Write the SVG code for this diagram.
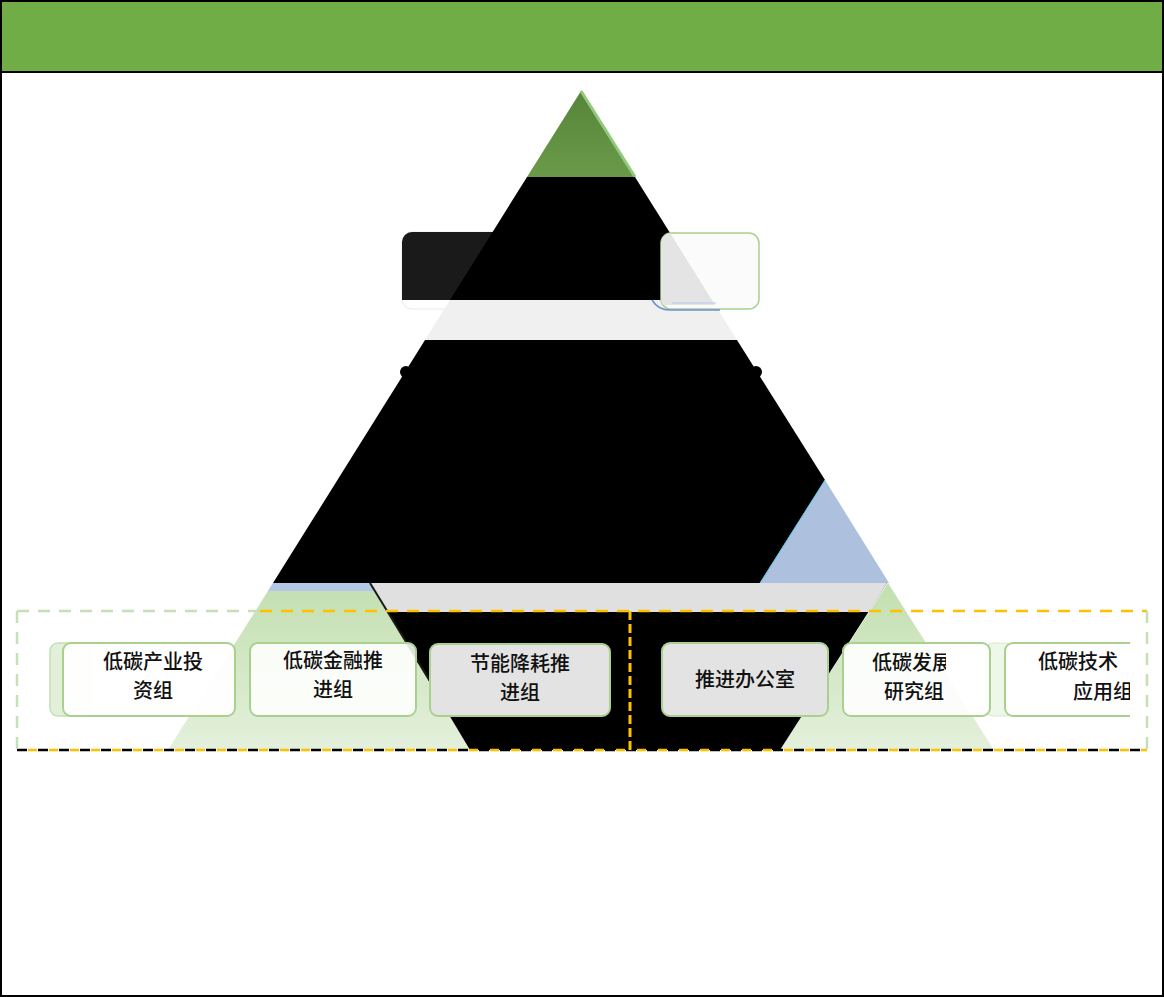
<svg xmlns="http://www.w3.org/2000/svg" width="1164" height="997" viewBox="0 0 1164 997">
<style>
.t{font-family:"Noto Sans CJK SC","Noto Sans CJK JP",sans-serif;font-size:20px;fill:#111;text-anchor:middle;font-weight:500}
.box{stroke:#a9d18e;stroke-width:2}
.dash{fill:none;stroke:#FFC000;stroke-width:2.5;stroke-dasharray:12 9}
</style>
<defs>
<linearGradient id="gTop" x1="0" y1="0" x2="0" y2="1"><stop offset="0" stop-color="#56853a"/><stop offset="1" stop-color="#6a9a49"/></linearGradient>
<linearGradient id="gLow" x1="0" y1="0" x2="0" y2="1"><stop offset="0" stop-color="#c3dfb0"/><stop offset="1" stop-color="#e4f0dc"/></linearGradient>
<clipPath id="cR"><rect x="661" y="233" width="98" height="76" rx="10"/></clipPath>
<clipPath id="c5"><rect x="840" y="640" width="106" height="80"/><rect x="840" y="676" width="160" height="45"/></clipPath>
<clipPath id="c6"><rect x="1000" y="630" width="130" height="100"/></clipPath>
</defs>
<rect x="1" y="1" width="1162" height="995" fill="#fff" stroke="#000" stroke-width="2"/>
<g id="header"><rect x="2" y="2" width="1160" height="69" fill="#70AD47"/><line x1="0" y1="72" x2="1164" y2="72" stroke="#000" stroke-width="2"/></g>

<g id="top-left-box">
<rect x="402" y="232" width="200" height="77" rx="10" fill="none" stroke="#e8e8e8" stroke-width="1"/>
<path d="M412 232 H602 V300 H402 V242 A10 10 0 0 1 412 232 Z" fill="#1a1a1a"/>
</g>

<g id="pyramid">
<polygon points="581,91 527,177 635,177" fill="url(#gTop)"/>
<line x1="581" y1="91" x2="635" y2="177" stroke="#93c97d" stroke-width="3"/>
<polygon points="527,177 635,177 712,300 450,300" fill="#000"/>
<polygon points="450,300 712,300 737,340 425,340" fill="#f0f0f0"/>
<polygon points="425,340 737,340 825,480 760,583 273,583" fill="#000"/>
<circle cx="406" cy="372" r="6" fill="#000"/>
<circle cx="756" cy="372" r="6" fill="#000"/>
<polygon points="825,480 889,583 760,583" fill="#adc0dd"/>
<line x1="825" y1="480" x2="760" y2="583" stroke="#4fc3e8" stroke-width="1"/>
<polygon points="273,583 370,583 470,750 168,750" fill="url(#gLow)"/>
<polygon points="273,583 370,583 375,591 268,591" fill="#b4c7e7"/>
<polygon points="888,583 994,750 780,750" fill="url(#gLow)"/>
<polygon points="370,583 887,583 780,750 470,750" fill="#000"/>
<polygon points="370,583 887,583 869,612 387,612" fill="#e0e0e0"/>
<line x1="370" y1="583" x2="430" y2="681" stroke="#1a1a1a" stroke-width="2"/>
</g>

<g id="top-right-box">
<rect x="661" y="233" width="98" height="76" rx="10" fill="#fbfbfb" stroke="#a9d18e" stroke-width="1.5"/>
<polygon points="655,228 667,228 715,305 655,305" fill="#e4e4e4" clip-path="url(#cR)"/>
<path d="M652 300 Q658 310 670 310 H720" fill="none" stroke="#6f8fcf" stroke-width="1.5"/>
<line x1="672" y1="303" x2="716" y2="303" stroke="#b8c4f0" stroke-width="1"/>
</g>

<g id="group-frames">
<line x1="17" y1="611" x2="260" y2="611" class="dash" style="stroke:#c5e0b4"/>
<line x1="260" y1="611" x2="1147" y2="611" class="dash"/>
<line x1="17" y1="750" x2="1147" y2="750" class="dash" style="stroke:#000;stroke-dasharray:10 11"/>
<line x1="28" y1="750" x2="1147" y2="750" class="dash" style="stroke-dasharray:9 12"/>
<line x1="17" y1="611" x2="17" y2="750" class="dash" style="stroke:#c5e0b4"/>
<line x1="1147" y1="611" x2="1147" y2="750" class="dash" style="stroke:#c5e0b4"/>
<line x1="630" y1="611" x2="630" y2="750" class="dash" style="stroke-width:3;stroke-dasharray:9 4"/>
</g>

<g id="connectors"></g>

<g id="node-1">
<rect x="50" y="643" width="40" height="73" rx="8" fill="#e2f0d9" stroke="#c5e0b4" stroke-width="1.5"/>
<rect x="63" y="643" width="172" height="73" rx="8" class="box" fill="#fff" fill-opacity="0.95"/>
<text class="t" x="153" y="669">低碳产业投</text><text class="t" x="153" y="698">资组</text>
</g>
<g id="node-2">
<rect x="250" y="643" width="166" height="73" rx="8" class="box" fill="#fff" fill-opacity="0.88"/>
<text class="t" x="333" y="668">低碳金融推</text><text class="t" x="333" y="697">进组</text>
</g>
<g id="node-3">
<rect x="430" y="644" width="180" height="72" rx="8" class="box" fill="#e3e3e3"/>
<text class="t" x="520" y="671">节能降耗推</text><text class="t" x="520" y="700">进组</text>
</g>
<g id="node-4">
<rect x="662" y="643" width="166" height="73" rx="8" class="box" fill="#e3e3e3"/>
<text class="t" x="745" y="687">推进办公室</text>
</g>
<g id="node-5">
<rect x="985" y="643" width="28" height="73" rx="8" fill="#eef7e8" stroke="#d6ebc8" stroke-width="1"/>
<rect x="843" y="643" width="147" height="73" rx="8" class="box" fill="#fff" fill-opacity="0.9"/>
<g clip-path="url(#c5)">
<text class="t" x="912" y="670">低碳发展</text><text class="t" x="914" y="699">研究组</text>
</g>
</g>
<g id="node-6" clip-path="url(#c6)">
<rect x="1005" y="643" width="140" height="73" rx="8" class="box" fill="#fff"/>
<text class="t" x="1078" y="669">低碳技术</text><text class="t" x="1103" y="699">应用组</text>
</g>
</svg>
